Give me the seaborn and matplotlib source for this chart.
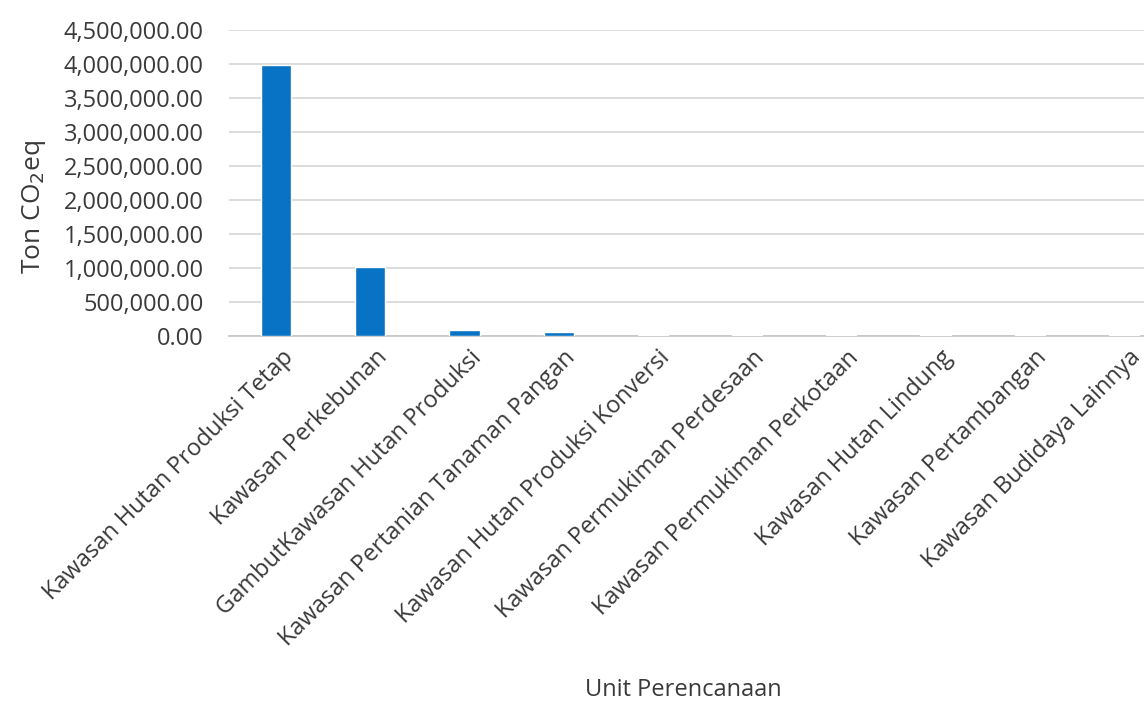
import matplotlib
matplotlib.use("Agg")
import matplotlib.pyplot as plt
import matplotlib.ticker as mticker
import matplotlib.transforms as mtransforms
import seaborn as sns
import pandas as pd

# Emissions per planning unit (ton CO2eq)
categories = [
    "Kawasan Hutan Produksi Tetap",
    "Kawasan Perkebunan",
    "GambutKawasan Hutan Produksi",
    "Kawasan Pertanian Tanaman Pangan",
    "Kawasan Hutan Produksi Konversi",
    "Kawasan Permukiman Perdesaan",
    "Kawasan Permukiman Perkotaan",
    "Kawasan Hutan Lindung",
    "Kawasan Pertambangan",
    "Kawasan Budidaya Lainnya",
]
emissions = [3990000, 1020000, 90000, 55000, 20000, 20000, 20000, 20000, 20000, 20000]

df = pd.DataFrame({"unit": categories, "emisi": emissions})

sns.set_theme(style="white")
plt.rcParams["font.family"] = ["Open Sans", "DejaVu Sans"]

TEXT = "#3a3a3a"
FS = 17

fig = plt.figure(figsize=(11.44, 7.09), dpi=100)
ax = fig.add_axes([229 / 1144, 1 - 336 / 709, 942 / 1144, 306 / 709])

sns.barplot(data=df, x="unit", y="emisi", color="#0872C4", saturation=1,
            width=0.32, ax=ax, zorder=3)

ax.set_ylim(0, 4500000)
ax.set_xlim(-0.5, len(categories) - 0.5)
ax.yaxis.set_major_locator(mticker.MultipleLocator(500000))
ax.yaxis.set_major_formatter(mticker.FuncFormatter(lambda v, p: f"{v:,.2f}"))
ax.grid(axis="y", color="#d9d9d9", linewidth=1.3, zorder=0)
ax.set_axisbelow(True)

for s in ("top", "right", "left"):
    ax.spines[s].set_visible(False)
ax.spines["bottom"].set_color("#c8c8c8")
ax.spines["bottom"].set_linewidth(1.3)
ax.spines["bottom"].set_zorder(2)

ax.tick_params(axis="y", length=0, pad=18, labelsize=FS, labelcolor=TEXT)
ax.tick_params(axis="x", length=0, pad=7, labelsize=FS, labelcolor=TEXT)
shift = mtransforms.ScaledTranslation(5 / 100, 0, fig.dpi_scale_trans)
for lbl in ax.get_xticklabels():
    lbl.set_rotation(45)
    lbl.set_ha("right")
    lbl.set_rotation_mode("anchor")
    lbl.set_transform(lbl.get_transform() + shift)

ax.set_ylabel("Ton CO$_2$eq", fontsize=19, color=TEXT)
ax.set_xlabel("Unit Perencanaan", fontsize=FS, color=TEXT)
ax.xaxis.set_label_coords((683 - 229) / 942, -(678 - 336) / 306)
ax.yaxis.set_label_coords(-(229 - 48) / 942, (336 - 207) / 306)

fig.savefig("out.png", dpi=100, facecolor="white")
